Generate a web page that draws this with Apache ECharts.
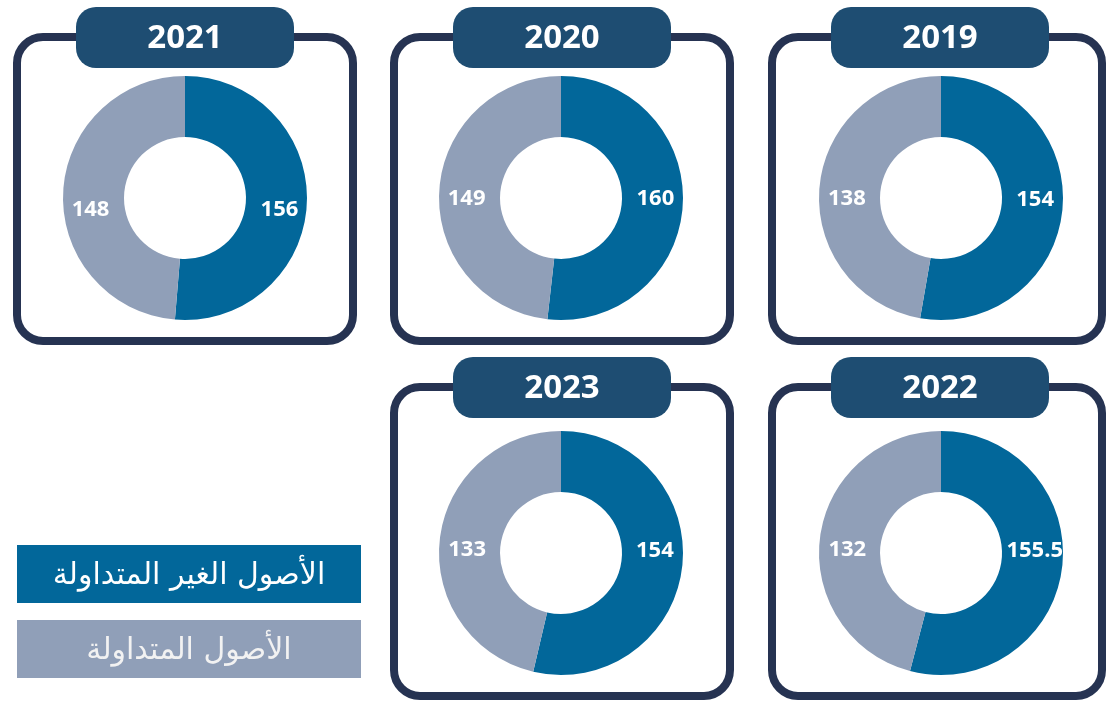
<!DOCTYPE html>
<html>
<head>
<meta charset="utf-8">
<script src="https://cdn.jsdelivr.net/npm/echarts@6/dist/echarts.min.js"></script>
<style>
  html, body { margin: 0; padding: 0; background: #fff; }
  #chart { width: 1107px; height: 702px; }
</style>
</head>
<body>
<div id="chart"></div>
<script>
// data
const years = ['2021', '2020', '2019', '2023', '2022'];
const nonCurrentAssets = [156, 160, 154, 154, 155.5];
const currentAssets = [148, 149, 138, 133, 132];
const seriesNames = ['الأصول الغير المتداولة', 'الأصول المتداولة'];

// panel layout (left, top, width, height of the outer frame)
const panels = [
  { x: 13, y: 33, w: 344, h: 312 },
  { x: 390, y: 33, w: 344, h: 312 },
  { x: 768, y: 33, w: 338, h: 312 },
  { x: 390, y: 383, w: 344, h: 317 },
  { x: 768, y: 383, w: 338, h: 317 }
];
const donutCenters = [[185, 198], [561, 198], [941, 198], [561, 553], [941, 553]];
const labelDy = [12, 1, 1, -3, -3]; // where the value labels sit relative to donut centre

const BLUE = '#02679a';
const GRAY = '#909fb8';
const TAB = '#1e4d72';
const FRAME = '#263352';
const R_IN = 61, R_OUT = 122;

const chart = echarts.init(document.getElementById('chart'));

const graphics = [];
panels.forEach((p, i) => {
  const bw = 8;
  graphics.push({
    type: 'rect', z: 1,
    shape: { x: p.x + bw / 2, y: p.y + bw / 2, width: p.w - bw, height: p.h - bw, r: 26 },
    style: { fill: '#fff', stroke: FRAME, lineWidth: bw }
  });
  const cx = p.x + p.w / 2 + (i === 2 || i === 4 ? 3 : 0);
  graphics.push({
    type: 'rect', z: 2,
    shape: { x: cx - 109, y: p.y - 26, width: 218, height: 61, r: 20 },
    style: { fill: TAB }
  });
  graphics.push({
    type: 'text', z: 3,
    style: {
      text: years[i], x: cx, y: p.y + 6,
      fill: '#fff', font: 'bold 33px "Open Sans"',
      align: 'center', verticalAlign: 'middle'
    }
  });
});

// legend boxes
[BLUE, GRAY].forEach((c, k) => {
  const top = 545 + k * 75;
  graphics.push({
    type: 'rect', z: 1,
    shape: { x: 17, y: top, width: 344, height: 58 },
    style: { fill: c }
  });
  graphics.push({
    type: 'text', z: 2,
    style: {
      text: seriesNames[k], x: 189, y: top + 31,
      fill: k === 0 ? '#fff' : '#f2f2f2', font: '30px "DejaVu Sans"',
      align: 'center', verticalAlign: 'middle'
    }
  });
});

// keep the value labels on a horizontal line through the donut centre
function labelOffset(values, idx, dy) {
  const total = values.reduce((a, b) => a + b, 0);
  let before = 0;
  for (let j = 0; j < idx; j++) before += values[j];
  const mid = (before + values[idx] / 2) / total * 2 * Math.PI;
  const rm = (R_IN + R_OUT) / 2;
  return [0, rm * Math.cos(mid) + dy];
}

const series = years.map((y, i) => {
  const vals = [nonCurrentAssets[i], currentAssets[i]];
  return {
    type: 'pie',
    name: y,
    center: donutCenters[i],
    radius: [R_IN, R_OUT],
    startAngle: 90,
    clockwise: true,
    z: 5,
    silent: true,
    label: {
      show: true,
      position: 'inside',
      formatter: '{c}',
      color: '#fff',
      fontFamily: 'Open Sans',
      fontWeight: 'bold',
      fontSize: 22
    },
    labelLine: { show: false },
    itemStyle: { borderWidth: 0 },
    data: [
      { name: seriesNames[0], value: vals[0], itemStyle: { color: BLUE },
        label: { offset: labelOffset(vals, 0, labelDy[i]) } },
      { name: seriesNames[1], value: vals[1], itemStyle: { color: GRAY },
        label: { offset: labelOffset(vals, 1, labelDy[i]) } }
    ]
  };
});

chart.setOption({
  animation: false,
  backgroundColor: '#fff',
  graphic: { elements: graphics },
  series: series
});
</script>
</body>
</html>
